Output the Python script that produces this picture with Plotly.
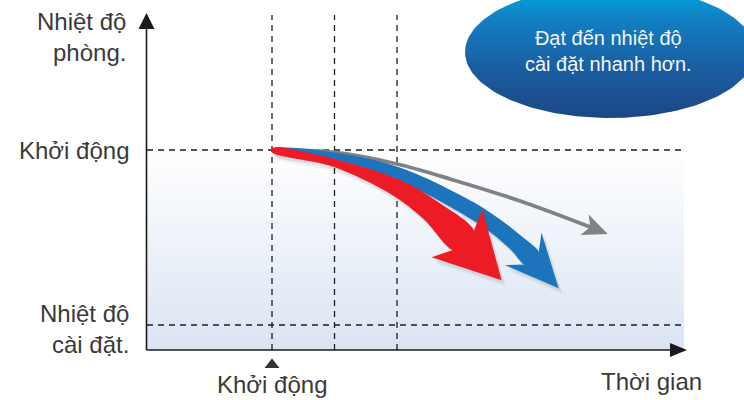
import numpy as np
import plotly.graph_objects as go

# ---------------- data (time units, temperature units) ----------------
start_temp = 8.0          # "Khởi động" room temperature level
set_temp = 1.0            # "Nhiệt độ cài đặt" level
marker_times = [2.0, 3.0, 4.0]   # dashed vertical guide lines
start_time = 2.0

time_gray = [2.0, 3.0, 4.0, 4.9, 5.97, 7.09]
temp_gray = [8.0, 7.9, 7.44, 6.8, 5.96, 4.92]

time_blue = [2.0, 3.0, 4.0, 4.9, 5.44, 5.89, 6.18]
temp_blue = [8.0, 7.76, 7.08, 6.0, 5.2, 4.32, 3.6]

time_red = [2.0, 3.0, 4.0, 4.53, 5.09]
temp_red = [8.0, 7.48, 6.48, 5.6, 4.33]

y_labels = ["Nhiệt độ<br>phòng.", "Khởi động", "Nhiệt độ<br>cài đặt."]
x_labels = ["Khởi động", "Thời gian"]
bubble_text = "Đạt đến nhiệt độ<br>cài đặt nhanh hơn."

# ---------------- layout constants (pixels) ----------------
W, H = 744, 400
PLOT_L, PLOT_R, PLOT_B, PLOT_T = 147.0, 687.0, 350.0, 12.5
X_RANGE = [0.0, 8.64]
Y_RANGE = [0.0, 13.5]
sx = (PLOT_R - PLOT_L) / (X_RANGE[1] - X_RANGE[0])
sy = (PLOT_B - PLOT_T) / (Y_RANGE[1] - Y_RANGE[0])
X_END = 8.59   # end of dashed lines / shaded region
Y_TOP = 13.4   # top of vertical dashed lines

FONT = "Liberation Sans, Arial, sans-serif"
TXT = "#3a3a3a"
RED, BLUE, GRAY = "#ed1c24", "#1c75bc", "#808285"

# half widths of the arrow bands (pixels) - style
hw_red = [2.0, 4.0, 8.5, 11.0, 13.0]
hw_blue = [1.5, 3.5, 6.0, 7.5, 8.0, 8.5, 8.5]


def to_px(t, T):
    return np.column_stack([np.asarray(t) * sx, np.asarray(T) * sy])


def end_dir(P):
    a = P[-1] - P[-2]
    b = P[-2] - P[-3]
    d = 1.5 * a / np.linalg.norm(a) - 0.5 * b / np.linalg.norm(b)
    return d / np.linalg.norm(d)


def band_and_head(t, T, hw, tip, back, half):
    P = to_px(t, T)
    n_pts = len(P)
    D = np.zeros_like(P)
    for i in range(n_pts):
        if i == 0:
            v = P[1] - P[0]
        elif i == n_pts - 1:
            v = end_dir(P)
        else:
            v = P[i + 1] - P[i - 1]
        D[i] = v / np.linalg.norm(v)
    N = np.column_stack([-D[:, 1], D[:, 0]])
    hw = np.asarray(hw)[:, None]
    L = P + hw * N
    R = P - hw * N
    band = np.vstack([L, R[::-1], L[:1]])
    E, d, nn = P[-1], D[-1], N[-1]
    e = E - 1.5 * d
    he = hw[-1, 0]
    head = np.array([
        e + he * nn,
        E - back * d + half * nn,
        E + tip * d,
        E - back * d - half * nn,
        e - he * nn,
        e + he * nn,
    ])
    return band, head


def to_data(A, dx=0.0, dy=0.0):
    return (A[:, 0] + dx) / sx, (A[:, 1] + dy) / sy


fig = go.Figure()

# shaded region between set temperature and start level
fig.add_trace(go.Scatter(
    x=[X_RANGE[0], X_END, X_END, X_RANGE[0], X_RANGE[0]],
    y=[0, 0, start_temp, start_temp, 0],
    mode="lines", line=dict(width=0), fill="toself",
    fillgradient=dict(type="vertical",
                      colorscale=[[0, "#dae4f3"], [1, "#ffffff"]]),
    hoverinfo="skip", showlegend=False))

dash = dict(color="#1e1e1e", width=1.3, dash="6px,5px")
for lvl in [start_temp, set_temp]:
    fig.add_trace(go.Scatter(x=[X_RANGE[0], X_END], y=[lvl, lvl], mode="lines",
                             line=dash, hoverinfo="skip", showlegend=False))
for tm in marker_times:
    fig.add_trace(go.Scatter(x=[tm, tm], y=[0, Y_TOP], mode="lines",
                             line=dash, hoverinfo="skip", showlegend=False))

# gray arrow (line + head)
Pg = to_px(time_gray, temp_gray)
dg = end_dir(Pg)
ng = np.array([-dg[1], dg[0]])
Eg = Pg[-1]
head_g = np.array([Eg - 1.0 * dg + 2 * ng, Eg - 6 * dg + 11 * ng, Eg + 19 * dg,
                   Eg - 6 * dg - 11 * ng, Eg - 1.0 * dg - 2 * ng, Eg - 1.0 * dg + 2 * ng])
fig.add_trace(go.Scatter(x=time_gray, y=temp_gray, mode="lines",
                         line=dict(color=GRAY, width=3.8, shape="spline"),
                         hoverinfo="skip", showlegend=False))
hx, hy = to_data(head_g)
fig.add_trace(go.Scatter(x=hx, y=hy, mode="lines", line=dict(width=0, color=GRAY),
                         fill="toself", fillcolor=GRAY, hoverinfo="skip", showlegend=False))

# blue and red thick arrows with soft shadows
specs = [
    (time_blue, temp_blue, hw_blue, 38, 15, 24.5, BLUE),
    (time_red, temp_red, hw_red, 53, 12, 35, RED),
]
for t, T, hw, tip, back, half, col in specs:
    band, head = band_and_head(t, T, hw, tip, back, half)
    for (ox, oy, alpha) in [(4, -6, 0.06), (2.5, -3.5, 0.08)]:
        for shp, spl in [(band, "spline"), (head, "linear")]:
            x, y = to_data(shp, ox, oy)
            fig.add_trace(go.Scatter(x=x, y=y, mode="lines",
                                     line=dict(width=0, shape=spl),
                                     fill="toself", fillcolor=f"rgba(40,50,70,{alpha})",
                                     hoverinfo="skip", showlegend=False))
    for shp, spl in [(band, "spline"), (head, "linear")]:
        x, y = to_data(shp)
        fig.add_trace(go.Scatter(x=x, y=y, mode="lines",
                                 line=dict(width=0, shape=spl, color=col),
                                 fill="toself", fillcolor=col,
                                 hoverinfo="skip", showlegend=False))

# ---------------- bubble (full-page overlay axes, pixel units, y up) ----------------
th = np.linspace(0, 2 * np.pi, 181)
ex = 610 + 145 * np.cos(th)
ey = (H - 52) + 66 * np.sin(th)
fig.add_trace(go.Scatter(
    x=ex, y=ey, xaxis="x2", yaxis="y2", mode="lines", line=dict(width=0),
    fill="toself",
    fillgradient=dict(type="vertical",
                      colorscale=[[0, "#1c4784"], [0.4, "#1a5fa3"],
                                  [0.75, "#1180c3"], [1, "#00a8e2"]]),
    hoverinfo="skip", showlegend=False))


def pxx(t):
    return PLOT_L + t * sx


def pyu(T):
    return H - (PLOT_B - T * sy)


shapes = []
ax_line = dict(color="#1a1a1a", width=1.6)
x0 = PLOT_L - 0.5
shapes.append(dict(type="line", xref="x2", yref="y2", x0=x0, x1=x0,
                   y0=pyu(0), y1=H - 28, line=ax_line))
shapes.append(dict(type="path", xref="x2", yref="y2",
                   path=f"M {x0-8},{H-29} L {x0+8},{H-29} L {x0},{H-13} Z",
                   fillcolor="#1a1a1a", line=dict(width=0)))
shapes.append(dict(type="line", xref="x2", yref="y2", x0=x0, x1=PLOT_R - 16,
                   y0=pyu(0), y1=pyu(0), line=ax_line))
yb = pyu(0)
shapes.append(dict(type="path", xref="x2", yref="y2",
                   path=f"M {PLOT_R-17},{yb+7} L {PLOT_R-17},{yb-7} L {PLOT_R},{yb} Z",
                   fillcolor="#1a1a1a", line=dict(width=0)))
xs = pxx(start_time)
shapes.append(dict(type="path", xref="x2", yref="y2",
                   path=f"M {xs-7.5},{H-368} L {xs+7.5},{H-368} L {xs},{H-358.5} Z",
                   fillcolor="#333333", line=dict(width=0)))

lab = dict(family=FONT, size=24, color=TXT)
annotations = [
    dict(text=y_labels[0], xref="x2", yref="y2", x=128, y=H - 37,
         xanchor="right", yanchor="middle", align="right", showarrow=False, font=lab),
    dict(text=y_labels[1], xref="x2", yref="y", x=131, y=start_temp,
         xanchor="right", yanchor="middle", align="right", showarrow=False, font=lab),
    dict(text=y_labels[2], xref="x2", yref="y2", x=131, y=H - 329,
         xanchor="right", yanchor="middle", align="right", showarrow=False, font=lab),
    dict(text=x_labels[0], xref="x", yref="y2", x=start_time, y=H - 384,
         xanchor="center", yanchor="middle", showarrow=False, font=lab),
    dict(text=x_labels[1], xref="x2", yref="y2", x=651, y=H - 381,
         xanchor="center", yanchor="middle", showarrow=False, font=lab),
    dict(text=bubble_text, xref="x2", yref="y2", x=608, y=H - 51,
         xanchor="center", yanchor="middle", align="center", showarrow=False,
         font=dict(family=FONT, size=20, color="#f2f6fb")),
]

fig.update_layout(
    width=W, height=H, margin=dict(l=0, r=0, t=0, b=0),
    paper_bgcolor="white", plot_bgcolor="rgba(0,0,0,0)",
    showlegend=False, shapes=shapes, annotations=annotations,
    xaxis=dict(domain=[PLOT_L / W, PLOT_R / W], range=X_RANGE, visible=False,
               fixedrange=True),
    yaxis=dict(domain=[(H - PLOT_B) / H, (H - PLOT_T) / H], range=Y_RANGE,
               visible=False, fixedrange=True),
    xaxis2=dict(domain=[0, 1], range=[0, W], visible=False, anchor="y2",
                fixedrange=True),
    yaxis2=dict(domain=[0, 1], range=[0, H], visible=False, anchor="x2",
                fixedrange=True),
)

fig.write_html(
    "out.html",
    config={"displayModeBar": False},
    post_script="document.body.style.margin='0';document.body.style.padding='0';"
                "document.body.style.overflow='hidden';",
)
